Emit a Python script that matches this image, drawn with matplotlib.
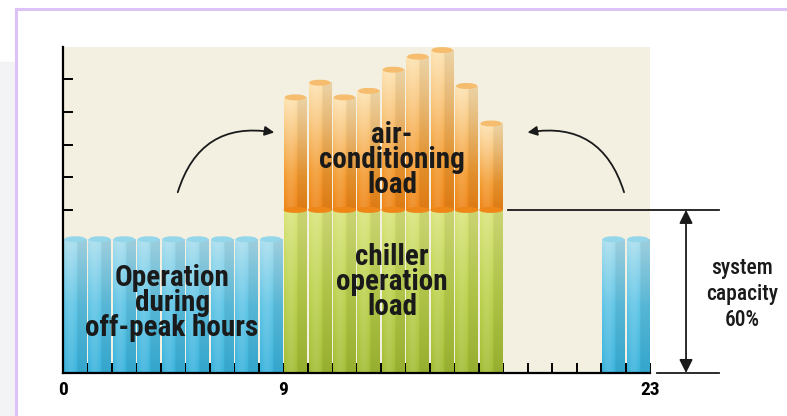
import numpy as np
import matplotlib

matplotlib.use("Agg")
import matplotlib.pyplot as plt
from matplotlib.colors import LinearSegmentedColormap
from matplotlib.lines import Line2D
from matplotlib.patches import Ellipse, FancyArrowPatch, Rectangle

# hourly load, in tick units (capacity line sits at 5)
offpeak_hours = [0, 1, 2, 3, 4, 5, 6, 7, 8, 22, 23]
offpeak_load = [4.1, 4.1, 4.1, 4.1, 4.1, 4.1, 4.1, 4.1, 4.1, 4.1, 4.1]
peak_hours = [9, 10, 11, 12, 13, 14, 15, 16, 17]
peak_load = [8.45, 8.9, 8.45, 8.65, 9.3, 9.7, 9.9, 8.8, 7.65]
capacity = 5.0

tick_pos = [0, 9, 24]
tick_text = ["0", "9", "23"]

FONT = ["Roboto Condensed", "Liberation Sans Narrow", "Roboto", "DejaVu Sans"]
BEIGE = "#f3f0e2"

blue = LinearSegmentedColormap.from_list("blue", ["#38b2dc", "#5ec4e5", "#a9deee"])
green = LinearSegmentedColormap.from_list("green", ["#a2bc33", "#bcd24e", "#dae57c"])
orange = LinearSegmentedColormap.from_list(
    "orange", [(0, "#ee8416"), (0.3, "#f39b30"), (0.7, "#f9c77f"), (1, "#fde3b2")])


def column(ax, x0, y0, y1, cmap, width=0.92, z=3):
    """Shaded prism: light left face, darker right face, vertical colour ramp."""
    t = np.linspace(0, 1, 80)[:, None]
    u = np.linspace(0, 1, 24)[None, :]
    rgb = cmap(np.repeat(t, 24, axis=1))[..., :3]
    light = np.where(u < 0.58, 0.12 * np.sin(np.pi * u / 0.58), 0.0)[..., None]
    dark = np.where(u >= 0.58, 0.93, 1.0)[..., None]
    rgb = (rgb + (1 - rgb) * light) * dark
    left = x0 + (1 - width) / 2
    ax.imshow(rgb, extent=(left, left + width, y0, y1), origin="lower",
              aspect="auto", zorder=z, interpolation="bilinear")


fig = plt.figure(figsize=(7.87, 4.16), dpi=100)
ax = fig.add_axes([0.080, 0.1034, 0.746, 0.784])
ax.set_facecolor(BEIGE)

for h, v in zip(offpeak_hours, offpeak_load):
    column(ax, h, 0, v, blue)
    ax.add_patch(Ellipse((h + 0.5, v), 0.8, 0.14, color="#94d6ea", zorder=4, clip_on=False))

for h, v in zip(peak_hours, peak_load):
    column(ax, h, 0, capacity, green)
    column(ax, h, capacity, v, orange)
    ax.add_patch(Ellipse((h + 0.5, capacity), 0.9, 0.14, color="#ef8618", zorder=4))
    ax.add_patch(Ellipse((h + 0.5, v), 0.8, 0.14, color="#f6bd6e", zorder=4, clip_on=False))

ax.set_xlim(0, 24)
ax.set_ylim(0, 10)
for side in ("top", "right"):
    ax.spines[side].set_visible(False)
for side in ("left", "bottom"):
    ax.spines[side].set_linewidth(1.6)
    ax.spines[side].set_zorder(5)

ax.set_yticks(range(1, 10))
ax.set_yticklabels([])
ax.tick_params(axis="y", direction="in", length=7, width=1.4)
ax.set_xticks(tick_pos)
ax.set_xticklabels(tick_text, fontfamily=FONT, fontweight="bold", fontsize=14)
ax.set_xticks(range(25), minor=True)
ax.tick_params(axis="x", which="both", direction="in", length=7, width=1.4, pad=6)

txt = dict(ha="center", va="center", fontfamily=FONT, fontweight="bold",
           fontsize=21, linespacing=0.88, color="#1a1a1a", zorder=6)
ax.text(13.45, 6.53, "air-\nconditioning\nload", **txt)
ax.text(13.45, 2.79, "chiller\noperation\nload", **txt)
ax.text(4.46, 2.15, "Operation\nduring\noff-peak hours", **txt)

# load shifting arrows
arrow_kw = dict(arrowstyle="-|>", mutation_scale=14, lw=1.3, color="#1a1a1a", zorder=6)
ax.add_patch(FancyArrowPatch((4.66, 5.46), (8.75, 7.36),
                             connectionstyle="arc3,rad=-0.45", **arrow_kw))
ax.add_patch(FancyArrowPatch((22.97, 5.46), (18.88, 7.36),
                             connectionstyle="arc3,rad=0.45", **arrow_kw))

# system capacity marker
ax.add_line(Line2D([18.2, 26.8], [capacity, capacity], color="#1a1a1a", lw=1.3, clip_on=False))
ax.add_line(Line2D([24.3, 26.8], [0, 0], color="#1a1a1a", lw=1.3, clip_on=False))
ax.add_patch(FancyArrowPatch((25.47, 0), (25.47, capacity), arrowstyle="<|-|>",
                             mutation_scale=20, lw=1.3, color="#1a1a1a", clip_on=False,
                             shrinkA=0, shrinkB=0))
ax.text(27.76, 2.42, "system\ncapacity\n60%", ha="center", va="center", fontfamily=FONT,
        fontweight="medium", fontsize=15.5, linespacing=1.25, color="#1a1a1a")

# frame around the panel
fig.add_artist(Rectangle((0, 0), 0.0203, 0.85, transform=fig.transFigure,
                         color="#f3f3f5", zorder=0))
fig.add_artist(Line2D([0.0203, 1], [0.978, 0.978], color="#dcc2f7", lw=2.2))
fig.add_artist(Line2D([0.0203, 0.0203], [0, 0.978], color="#dcc2f7", lw=2.2))

fig.savefig("out.png", dpi=100)
